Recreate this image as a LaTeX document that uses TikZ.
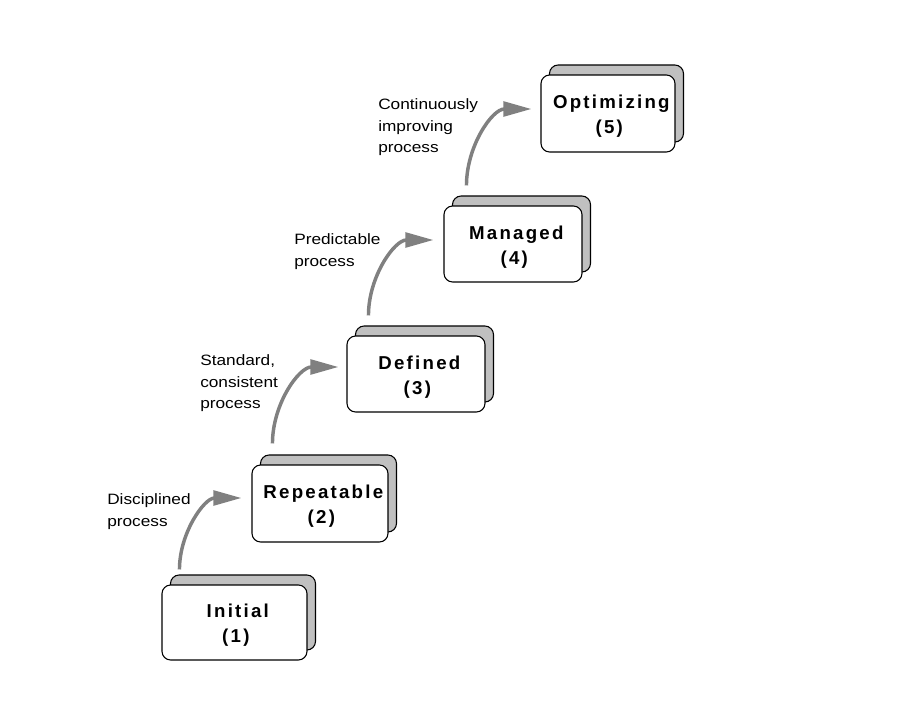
\documentclass[tikz,border=0pt]{standalone}
\usepackage{fontspec}
\setmainfont{Liberation Sans}
\newfontfamily\boxfont{Liberation Sans}[LetterSpace=12]
\newfontfamily\labfont{Liberation Sans}[FakeStretch=1.15]
\usetikzlibrary{arrows.meta}
\definecolor{backgray}{RGB}{192,192,192}
\definecolor{arrgray}{RGB}{128,128,128}
\newcommand{\toprule}{\rule{0pt}{14.5pt}}
\begin{document}
\begin{tikzpicture}[x=0.75pt,y=-0.75pt,
  front/.style={draw=black, line width=0.8pt, fill=white, rounded corners=6.5pt,
    inner sep=0pt, align=center,
    font=\boxfont\bfseries\fontsize{14}{18.75}\selectfont},
  back/.style={draw=black, line width=0.8pt, fill=backgray, rounded corners=6.5pt,
    inner sep=0pt},
  lab/.style={inner sep=0pt, align=left, anchor=west,
    font=\labfont\fontsize{11.25}{16.1}\selectfont},
  arr/.style={draw=arrgray, line width=2.6pt,
    -{Triangle[length=21pt,width=11pt]}}
]
\fill[white] (0,0) rectangle (901,722);
\useasboundingbox (0,0) rectangle (901,722);

% Initial
\node[back, minimum width=108.75pt, minimum height=56.25pt] (b1) at (243,612.5) {};
\node[front, minimum width=108.75pt, minimum height=56.25pt] (n1) at (234.5,622.5)
  {\toprule\hspace*{5pt}Initial\\\hspace*{2pt}(1)};
% Repeatable
\node[back, minimum width=102pt, minimum height=57.75pt] (b2) at (328.5,493.5) {};
\node[front, minimum width=102pt, minimum height=57.75pt] (n2) at (320,503.5)
  {\toprule\hspace*{5pt}Repeatable\\\hspace*{2pt}(2)};
% Defined
\node[back, minimum width=103.5pt, minimum height=57pt] (b3) at (424.5,364) {};
\node[front, minimum width=103.5pt, minimum height=57pt] (n3) at (416,374)
  {\toprule\hspace*{5pt}Defined\\\hspace*{2pt}(3)};
% Managed
\node[back, minimum width=103.5pt, minimum height=57pt] (b4) at (521.5,234) {};
\node[front, minimum width=103.5pt, minimum height=57pt] (n4) at (513,244)
  {\toprule\hspace*{5pt}Managed\\\hspace*{2pt}(4)};
% Optimizing
\node[back, minimum width=100.5pt, minimum height=57.75pt] (b5) at (616.5,103.5) {};
\node[front, minimum width=100.5pt, minimum height=57.75pt] (n5) at (608,113.5)
  {\toprule\hspace*{5pt}Optimizing\\\hspace*{2pt}(5)};

% arrows
\draw[arr] ([shift={(9.5,-5)}]b1.north west) to[out=90,in=180] ([shift={(-10,-5.5)}]n2.west);
\draw[arr] ([shift={(12.5,-11)}]b2.north west) to[out=90,in=180] ([shift={(-8,-7)}]n3.west);
\draw[arr] ([shift={(13.5,-10)}]b3.north west) to[out=90,in=180] ([shift={(-10,-4)}]n4.west);
\draw[arr] ([shift={(14.5,-10)}]b4.north west) to[out=90,in=180] ([shift={(-9,-4.5)}]n5.west);

% labels
\node[lab] (l1) at (107,511.5) {Disciplined\\process};
\node[lab] (l2) at (200,383.5) {Standard,\\consistent\\process};
\node[lab] (l3) at (294,251.5) {Predictable\\process};
\node[lab] (l4) at (378,127.5) {Continuously\\improving\\process};
\end{tikzpicture}
\end{document}
